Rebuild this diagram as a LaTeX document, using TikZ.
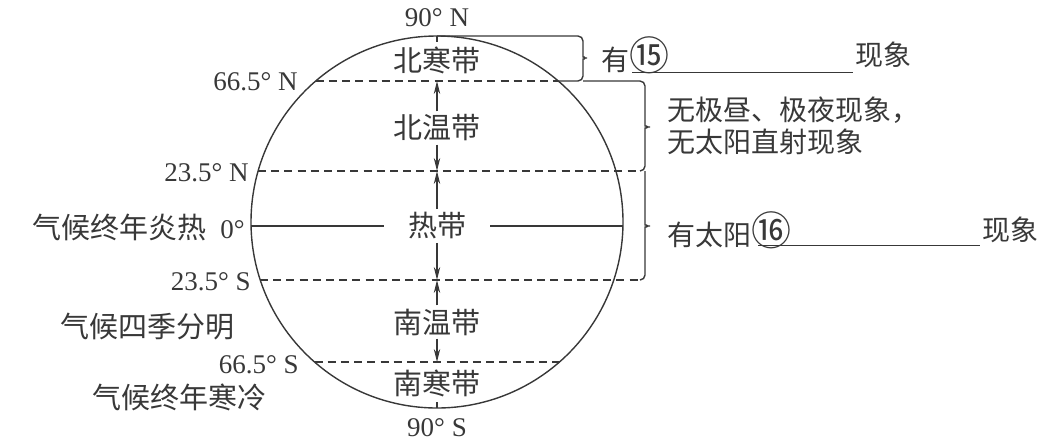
\documentclass[tikz,border=0pt]{standalone}
\usepackage{fontspec}
\setmainfont{Liberation Serif}
\newfontfamily\cjk{Noto Sans CJK SC}
\usepackage{tikz}
\usetikzlibrary{arrows.meta, positioning, calc}
\definecolor{globeink}{HTML}{383838}
\newcommand{\ringnum}[1]{{\fontsize{20}{16}\selectfont #1}}
\tikzset{
  lat/.style={font=\fontsize{13.5}{15}\selectfont, text=globeink, inner sep=0pt},
  zone/.style={font=\cjk\fontsize{14.5}{16}\selectfont, text=globeink,
               inner xsep=1pt, inner ysep=1.5pt, fill=white},
  note/.style={font=\cjk\fontsize{14}{16}\selectfont, text=globeink,
               inner sep=0pt, align=left},
  rim/.style={draw=globeink, line width=0.7pt},
  tropic/.style={rim, dash pattern=on 4pt off 2.6pt},
  brace/.style={rim, rounded corners=2.5pt},
  span/.style={-{Stealth[length=6.5pt, width=3.2pt]}, draw=globeink, line width=0.6pt},
  blank/.style={draw=globeink, line width=0.5pt},
}

\begin{document}
\begin{tikzpicture}[x=0.5pt, y=-0.5pt]
  \useasboundingbox (0,0) rectangle (1054,445);

  % globe and parallels
  \coordinate (globe) at (437,222);
  \coordinate (npole) at (437,36);
  \coordinate (spole) at (437,408);
  \draw[rim] (globe) circle[radius=186];
  \coordinate (n66w) at (315.7,81);  \coordinate (n66e) at (558.3,81);
  \coordinate (n23w) at (258,171);   \coordinate (n23e) at (640,171);
  \coordinate (eqw)  at (251,226);   \coordinate (eqe)  at (623,226);
  \coordinate (s23w) at (260,280);   \coordinate (s23e) at (640,280);
  \coordinate (s66w) at (314.5,362); \coordinate (s66e) at (559.5,362);
  \draw[tropic] (n66w) -- (n66e);
  \draw[tropic] (n23w) -- (n23e);
  \draw[rim]    (eqw) -- (eqe);
  \draw[tropic] (s23w) -- (s23e);
  \draw[tropic] (s66w) -- (s66e);
  \draw[rim] (npole) -- ++(0,6);
  \draw[rim] (spole) -- ++(0,-6);

  % zones
  \node[zone] (nfrigid) at (437,60)  {北寒带};
  \node[zone] (ntemp)   at (437,128) {北温带};
  \node[zone, inner xsep=12pt] (torrid) at (437,226) {热带};
  \node[zone] (stemp)   at (437,322) {南温带};
  \node[zone] (sfrigid) at (437,383) {南寒带};
  \draw[span] (ntemp) -- (ntemp |- n66w);
  \draw[span] (ntemp) -- (ntemp |- n23w);
  \draw[span] (torrid) -- (torrid |- n23w);
  \draw[span] (torrid) -- (torrid |- s23w);
  \draw[span] (stemp) -- (stemp |- s23w);
  \draw[span] (stemp) -- (stemp |- s66w);

  % latitudes
  \node[lat] (lat90n) at (437,18) {90° N};
  \node[lat] (lat90s) at (437,428) {90° S};
  \node[lat, anchor=east] (lat66n) at (298,82)  {66.5° N};
  \node[lat, anchor=east] (lat23n) at (249,173) {23.5° N};
  \node[lat, anchor=east] (lat0)   at (245,227) {{\cjk\fontsize{14.5}{16}\selectfont 气候终年炎热}\hspace{7pt}0°};
  \node[lat, anchor=east] (lat23s) at (251,282) {23.5° S};
  \node[lat, anchor=east] (lat66s) at (299,365) {66.5° S};
  \node[zone, fill=none, inner sep=0pt, anchor=west] (climt) at (60,327) {气候四季分明};
  \node[zone, fill=none, inner sep=0pt, anchor=west] (climf) at (92,397) {气候终年寒冷};

  % braces
  \draw[brace] (npole) -- (583,36) -- (583,52)
    .. controls (583,56) and (586,58) .. (590,58)
    .. controls (586,58) and (583,60) .. (583,64) -- (583,81) -- (n66e);
  \draw[brace] (583,81) -- (645,81) -- (645,121)
    .. controls (645,125) and (648,127) .. (653,127)
    .. controls (648,127) and (645,129) .. (645,133) -- (645,171) -- (n23e);
  \draw[brace] (645,171) -- (645,220)
    .. controls (645,224) and (648,226) .. (653,226)
    .. controls (648,226) and (645,228) .. (645,232) -- (645,280) -- (s23e);

  % notes
  \node[note, anchor=west] (have15) at (601,55) {有\ringnum{⑮}};
  \node[note, anchor=west] (seen15) at (855,55) {现象};
  \coordinate (gap15a) at (632,72); \coordinate (gap15b) at (853,72);
  \draw[blank] (gap15a) -- (gap15b);
  \node[note, anchor=west] (nopolar) at (667,126) {无极昼、极夜现象，\\无太阳直射现象};
  \node[note, anchor=west] (have16) at (667,230) {有太阳\ringnum{⑯}};
  \node[note, anchor=west] (seen16) at (982,230) {现象};
  \coordinate (gap16a) at (758,245); \coordinate (gap16b) at (980,245);
  \draw[blank] (gap16a) -- (gap16b);
\end{tikzpicture}
\end{document}
